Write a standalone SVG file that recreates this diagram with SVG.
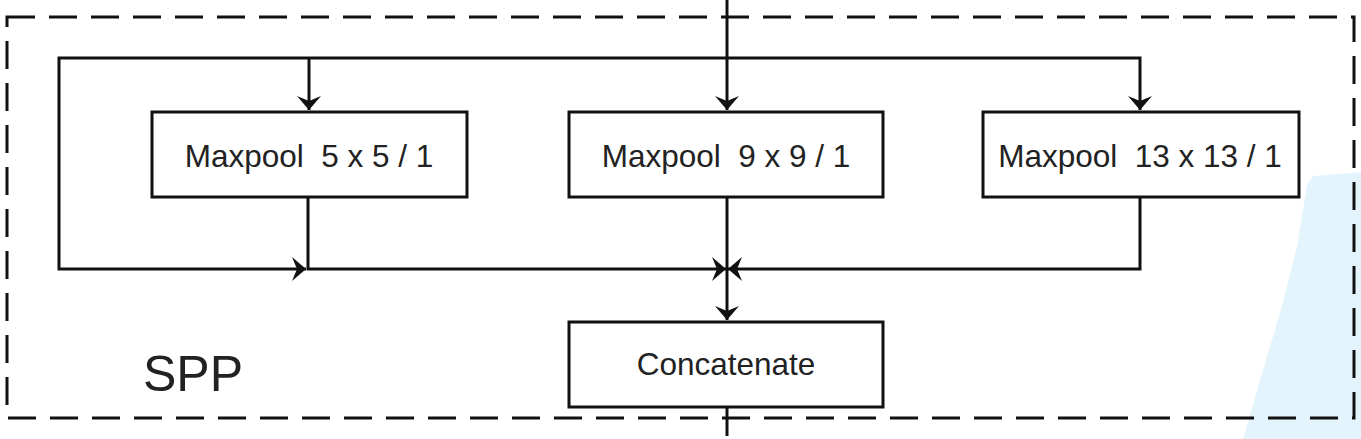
<svg xmlns="http://www.w3.org/2000/svg" width="1361" height="439" viewBox="0 0 1361 439">
<style>
.box{fill:#fff;stroke:#111;stroke-width:3}
.lbl{font-family:"Liberation Sans",Arial,sans-serif;font-size:31.5px;fill:#222;text-anchor:middle}
.ln{fill:none;stroke:#111;stroke-width:3}
</style>
<defs>
<marker id="arr" markerUnits="userSpaceOnUse" viewBox="-15 -13 17 26" refX="0" refY="0" markerWidth="17" markerHeight="26" orient="auto">
<path d="M0,0 L-14,-12 L-9,0 L-14,12 Z" fill="#111"/>
</marker>
</defs>
<rect width="1361" height="439" fill="#fff"/>
<path d="M1313,176 L1361,172 L1361,439 L1243,439 L1260,380 L1280,313 L1297,247 L1307,185 Z" fill="#e4f4fc"/>
<rect id="spp" x="7" y="17" width="1347" height="401" fill="none" stroke="#111" stroke-width="3" stroke-dasharray="28,14"/>
<text x="143" y="391" font-family="'Liberation Sans',Arial,sans-serif" font-size="50" fill="#222">SPP</text>
<g id="connectors">
<path class="ln" d="M727,0 V110" marker-end="url(#arr)"/>
<path class="ln" d="M727,58 H59 V269 H306" marker-end="url(#arr)"/>
<path class="ln" d="M309,58 V110" marker-end="url(#arr)"/>
<path class="ln" d="M727,58 H1140 V110" marker-end="url(#arr)"/>
<path class="ln" d="M308,197 V269 H726" marker-end="url(#arr)"/>
<path class="ln" d="M1140,197 V269 H728" marker-end="url(#arr)"/>
<path class="ln" d="M727,197 V320" marker-end="url(#arr)"/>
<path class="ln" d="M727,407 V436"/>
</g>
<g id="maxpool5">
<rect class="box" x="152" y="112" width="315" height="85"/>
<text class="lbl" x="309" y="167" xml:space="preserve">Maxpool  5 x 5 / 1</text>
</g>
<g id="maxpool9">
<rect class="box" x="569" y="112" width="314" height="85"/>
<text class="lbl" x="726" y="167" xml:space="preserve">Maxpool  9 x 9 / 1</text>
</g>
<g id="maxpool13">
<rect class="box" x="983" y="112" width="316" height="85"/>
<text class="lbl" x="1140" y="167" xml:space="preserve">Maxpool  13 x 13 / 1</text>
</g>
<g id="concat">
<rect class="box" x="569" y="322" width="314" height="85"/>
<text class="lbl" x="726" y="375">Concatenate</text>
</g>
</svg>
